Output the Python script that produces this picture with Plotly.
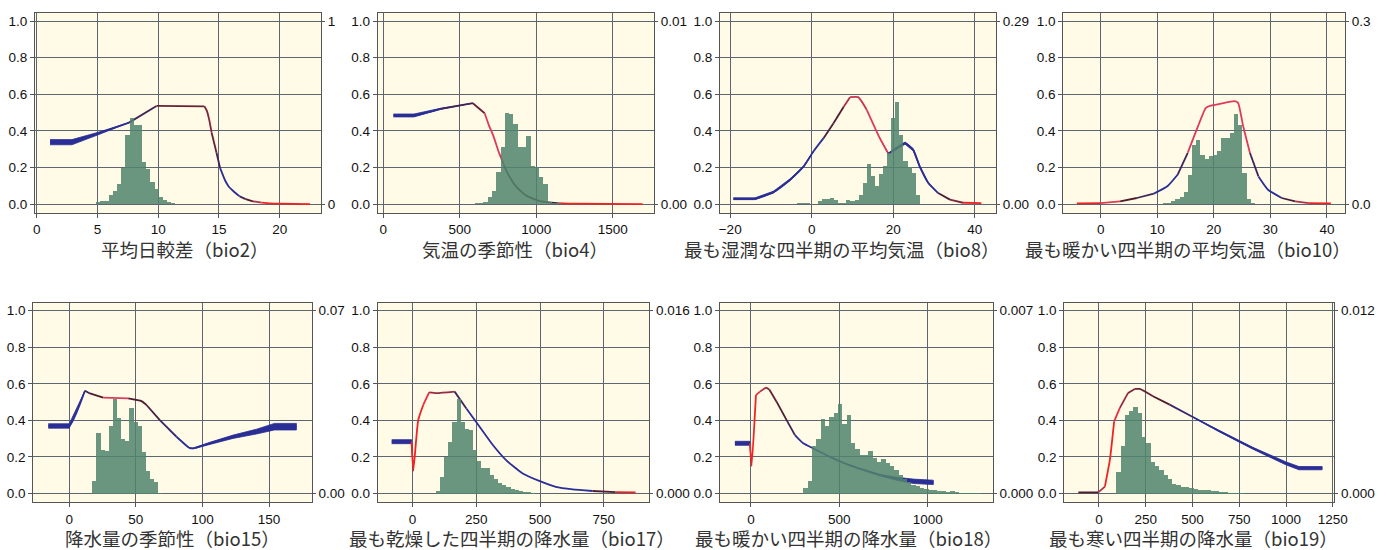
import plotly.graph_objects as go

# ---------------- data ----------------
titles = ["平均日較差（bio2）", "気温の季節性（bio4）", "最も湿潤な四半期の平均気温（bio8）",
          "最も暖かい四半期の平均気温（bio10）", "降水量の季節性（bio15）", "最も乾燥した四半期の降水量（bio17）",
          "最も暖かい四半期の降水量（bio18）", "最も寒い四半期の降水量（bio19）"]
right_top = ["1", "0.01", "0.29", "0.3", "0.07", "0.016", "0.007", "0.012"]
right_bottom = ["0", "0.00", "0.00", "0.0", "0.00", "0.000", "0.000", "0.000"]
x_ticks = [[0, 5, 10, 15, 20], [0, 500, 1000, 1500], [-20, 0, 20, 40], [0, 10, 20, 30, 40],
           [0, 50, 100, 150], [0, 250, 500, 750], [0, 500, 1000], [0, 250, 500, 750, 1000, 1250]]
y_ticks = [0.0, 0.2, 0.4, 0.6, 0.8, 1.0]

# response curves: x, y, tone (0 blue .. 1 red), spread (half band width, y units)
bio2_x = [1.1, 2.9, 5.0, 7.6, 9.86, 13.8, 14.0, 14.2, 14.4, 14.8, 15.1, 15.5, 15.8, 16.2, 16.7, 17.2, 17.8, 18.5, 19.2, 20.0, 22.5]
bio2_y = [0.338, 0.338, 0.384, 0.445, 0.536, 0.534, 0.51, 0.46, 0.39, 0.28, 0.196, 0.13, 0.096, 0.07, 0.042, 0.027, 0.015, 0.008, 0.004, 0.002, 0.0]
bio2_tone = [0, 0, 0, 0.3, 0.55, 0.6, 0.6, 0.6, 0.55, 0.3, 0, 0, 0, 0, 0.3, 0.5, 0.7, 1, 1, 1, 1]
bio2_spread = [0.014, 0.014, 0.007, 0, 0, 0, 0, 0, 0, 0, 0, 0, 0, 0, 0, 0, 0, 0, 0, 0, 0]

bio4_x = [66, 200, 373, 585, 662, 690, 720, 757, 790, 811, 850, 877, 943, 1031, 1140, 1250, 1695]
bio4_y = [0.484, 0.484, 0.52, 0.551, 0.496, 0.43, 0.37, 0.278, 0.21, 0.169, 0.115, 0.087, 0.042, 0.015, 0.005, 0.002, 0.0]
bio4_tone = [0, 0, 0.3, 0.55, 0.8, 0.8, 0.8, 0.8, 0.6, 0.45, 0.45, 0.45, 0.45, 0.45, 1, 1, 1]
bio4_spread = [0.008, 0.008, 0.003, 0, 0, 0, 0, 0, 0, 0, 0, 0, 0, 0, 0, 0, 0]

bio8_x = [-19.2, -13.9, -9.4, -5.3, -2.0, 0.4, 2.9, 5.3, 7.8, 9.4, 11.4, 13.5, 16.7, 18.8, 22.9, 24.9, 26.5, 28.6, 31.0, 33.9, 37.1, 41.6]
bio8_y = [0.029, 0.029, 0.065, 0.133, 0.205, 0.287, 0.36, 0.44, 0.53, 0.584, 0.584, 0.515, 0.36, 0.275, 0.333, 0.296, 0.205, 0.115, 0.06, 0.024, 0.007, 0.005]
bio8_tone = [0, 0, 0, 0, 0, 0, 0.45, 0.5, 0.7, 0.75, 0.75, 0.8, 0.8, 0, 0, 0, 0, 0, 0.45, 0.6, 1, 1]
bio8_spread = [0.005, 0.005, 0.005, 0.005, 0.004, 0, 0, 0, 0, 0, 0, 0, 0, 0.003, 0.006, 0.006, 0.005, 0.003, 0, 0, 0, 0]

bio10_x = [-4.2, 0, 3.45, 6.4, 9.4, 11.8, 13.6, 15.4, 17.1, 18.6, 19.5, 21.3, 23.7, 24.3, 25.2, 26.4, 27.9, 29.6, 32.0, 34.4, 36.8, 40.7]
bio10_y = [0.004, 0.005, 0.015, 0.033, 0.057, 0.097, 0.16, 0.28, 0.416, 0.526, 0.538, 0.549, 0.562, 0.553, 0.425, 0.279, 0.151, 0.078, 0.033, 0.015, 0.005, 0.004]
bio10_tone = [1, 0.8, 0.5, 0.3, 0, 0, 0.3, 0.8, 0.8, 0.8, 0.8, 0.8, 0.8, 0.8, 0.8, 0.3, 0, 0, 0.45, 0.7, 1, 1]
bio10_spread = [0] * 22

bio15_x = [-15.75, 0, 11.75, 15.5, 25.5, 44.25, 54.25, 58, 68, 80.5, 90, 93, 105.5, 123, 140.5, 154, 170.5]
bio15_y = [0.369, 0.369, 0.562, 0.547, 0.524, 0.52, 0.505, 0.484, 0.401, 0.31, 0.25, 0.246, 0.274, 0.31, 0.338, 0.365, 0.365]
bio15_tone = [0, 0, 0.3, 0.5, 0.8, 0.5, 0.5, 0.4, 0.2, 0, 0, 0, 0, 0, 0, 0, 0]
bio15_spread = [0.012, 0.012, 0, 0, 0, 0, 0, 0, 0, 0, 0, 0.002, 0.0055, 0.009, 0.013, 0.018, 0.018]

bio17_x = [-82, -4, 2.6, 22, 41.7, 65, 94, 165, 211, 263, 315, 367, 432, 497, 562, 628, 706, 797, 875]
bio17_y = [0.283, 0.283, 0.124, 0.401, 0.484, 0.553, 0.549, 0.557, 0.465, 0.365, 0.265, 0.182, 0.109, 0.068, 0.036, 0.022, 0.013, 0.007, 0.005]
bio17_tone = [0, 1, 1, 1, 0.9, 0.65, 0.65, 0.3, 0, 0, 0, 0, 0, 0, 0, 0, 0.5, 1, 1]
bio17_spread = [0.011, 0.011, 0, 0, 0, 0, 0, 0, 0, 0, 0, 0, 0, 0, 0, 0, 0, 0, 0]

bio18_x = [-90.6, -5.7, 3.8, 28.3, 51, 85, 104, 145, 202, 249, 296, 353, 447, 542, 636, 730, 825, 919, 1032]
bio18_y = [0.274, 0.274, 0.15, 0.538, 0.557, 0.58, 0.569, 0.502, 0.401, 0.319, 0.274, 0.246, 0.2, 0.16, 0.128, 0.1, 0.08, 0.066, 0.06]
bio18_tone = [0, 1, 1, 0.9, 0.7, 0.6, 0.55, 0.5, 0.3, 0, 0, 0, 0, 0, 0, 0, 0, 0, 0]
bio18_spread = [0.011, 0.011, 0, 0, 0, 0, 0, 0, 0, 0, 0, 0, 0, 0, 0.002, 0.004, 0.008, 0.012, 0.012]

bio19_x = [-110, -3.5, 32, 58.5, 81.5, 112, 156, 191.5, 218, 289, 378, 502, 644, 821, 998, 1069, 1193]
bio19_y = [0.005, 0.005, 0.037, 0.183, 0.394, 0.468, 0.55, 0.572, 0.572, 0.532, 0.486, 0.418, 0.34, 0.248, 0.165, 0.138, 0.138]
bio19_tone = [0.5, 0.7, 1, 1, 0.9, 0.65, 0.6, 0.55, 0.55, 0.5, 0.2, 0, 0, 0, 0, 0, 0]
bio19_spread = [0, 0, 0, 0, 0, 0, 0, 0, 0, 0, 0, 0, 0.003, 0.005, 0.008, 0.009, 0.009]

# histograms: first bin edge, bin width, bar heights (left-axis scale)
bio2_hist_start, bio2_hist_width = 4.9, 0.343
bio2_hist = [0.01, 0.018, 0.018, 0.05, 0.07, 0.11, 0.195, 0.377, 0.47, 0.43, 0.43, 0.23, 0.19, 0.12, 0.08, 0.04, 0.02, 0.01, 0.004]
bio4_hist_start, bio4_hist_width = 540, 28
bio4_hist = [0.002, 0.002, 0.004, 0.006, 0.01, 0.04, 0.07, 0.175, 0.31, 0.5, 0.49, 0.435, 0.31, 0.31, 0.37, 0.21, 0.2, 0.15, 0.11, 0.01, 0.005, 0.003]
bio8_hist_start, bio8_hist_width = -3.5, 1.0
bio8_hist = [0.006, 0.008, 0.006, 0.002, 0.0, 0.015, 0.025, 0.03, 0.035, 0.02, 0.005, 0.005, 0.02, 0.015, 0.02, 0.05, 0.115,
             0.22, 0.155, 0.1, 0.165, 0.21, 0.28, 0.47, 0.555, 0.375, 0.235, 0.2, 0.17, 0.05]
bio10_hist_start, bio10_hist_width = 10.3, 0.74
bio10_hist = [0.002, 0.004, 0.008, 0.015, 0.025, 0.04, 0.065, 0.16, 0.32, 0.35, 0.27, 0.245, 0.26, 0.27, 0.29, 0.36, 0.36, 0.39, 0.49, 0.43, 0.17, 0.03, 0.005]
bio15_hist_start, bio15_hist_width = 17.5, 3.1
bio15_hist = [0.07, 0.33, 0.24, 0.235, 0.37, 0.52, 0.415, 0.3, 0.29, 0.47, 0.39, 0.37, 0.23, 0.125, 0.08, 0.065, 0.005]
bio17_hist_start, bio17_hist_width = 89.8, 16.3
bio17_hist = [0.015, 0.09, 0.2, 0.285, 0.39, 0.52, 0.39, 0.355, 0.35, 0.24, 0.18, 0.14, 0.14, 0.1, 0.08, 0.06, 0.05, 0.035, 0.025, 0.02, 0.015, 0.01, 0.01, 0.005]
bio18_hist_start, bio18_hist_width = 296, 24.5
bio18_hist = [0.03, 0.07, 0.26, 0.3, 0.41, 0.37, 0.42, 0.44, 0.49, 0.38, 0.43, 0.28, 0.246, 0.21, 0.21, 0.234, 0.197, 0.173, 0.19, 0.168,
              0.15, 0.131, 0.1, 0.082, 0.064, 0.05, 0.04, 0.033, 0.027, 0.02, 0.018, 0.015, 0.012, 0.01, 0.012, 0.008, 0.006, 0.005, 0.004, 0.003, 0.002]
bio19_hist_start, bio19_hist_width = 94, 23
bio19_hist = [0.12, 0.26, 0.43, 0.455, 0.475, 0.44, 0.31, 0.28, 0.175, 0.15, 0.13, 0.1, 0.08, 0.055, 0.045, 0.035, 0.035, 0.03, 0.025, 0.02,
              0.018, 0.018, 0.015, 0.012, 0.008, 0.01, 0.005, 0.004, 0.003, 0.003]

panels = [
    (bio2_x, bio2_y, bio2_tone, bio2_spread, bio2_hist_start, bio2_hist_width, bio2_hist),
    (bio4_x, bio4_y, bio4_tone, bio4_spread, bio4_hist_start, bio4_hist_width, bio4_hist),
    (bio8_x, bio8_y, bio8_tone, bio8_spread, bio8_hist_start, bio8_hist_width, bio8_hist),
    (bio10_x, bio10_y, bio10_tone, bio10_spread, bio10_hist_start, bio10_hist_width, bio10_hist),
    (bio15_x, bio15_y, bio15_tone, bio15_spread, bio15_hist_start, bio15_hist_width, bio15_hist),
    (bio17_x, bio17_y, bio17_tone, bio17_spread, bio17_hist_start, bio17_hist_width, bio17_hist),
    (bio18_x, bio18_y, bio18_tone, bio18_spread, bio18_hist_start, bio18_hist_width, bio18_hist),
    (bio19_x, bio19_y, bio19_tone, bio19_spread, bio19_hist_start, bio19_hist_width, bio19_hist),
]

# ---------------- layout geometry (pixels) ----------------
W, H = 1386, 550
x_dom_px = [(35, 321), (377.7, 654), (720, 996), (1063.3, 1345),
            (33.3, 311.7), (377.7, 649.3), (720, 992.7), (1064.3, 1334.3)]
x_ranges = [(-0.14, 23.4), (-37, 1769), (-22.5, 45.2), (-6.6, 43.2),
            (-27, 182), (-137, 929), (-175, 1368), (-185, 1258)]
row_px = [(13, 213), (302.7, 502.3)]
title_cx = [185, 515, 842, 1188, 172, 512, 848, 1193]
title_cy = [248.5, 248.5, 248.5, 248.5, 538, 538, 538, 538]
Y_RANGE = [-0.049, 1.044]

GRID = "#5c6570"
FRAME = "#555555"
TICKFONT = dict(family="Liberation Sans, Arial, sans-serif", size=13.5, color="#111111")
BAR_COLOR = "rgba(81,131,110,0.86)"
BAND_COLOR = "rgb(42,46,150)"

STOPS = [(0.0, (42, 46, 150)), (0.5, (78, 28, 46)), (0.8, (222, 58, 92)), (1.0, (240, 35, 35))]


def tone_color(t):
    for (a, ca), (b, cb) in zip(STOPS[:-1], STOPS[1:]):
        if t <= b:
            f = (t - a) / (b - a) if b > a else 0
            c = [round(ca[i] + (cb[i] - ca[i]) * f) for i in range(3)]
            return f"rgb({c[0]},{c[1]},{c[2]})"
    c = STOPS[-1][1]
    return f"rgb({c[0]},{c[1]},{c[2]})"


fig = go.Figure()
layout = dict(width=W, height=H, margin=dict(l=0, r=0, t=0, b=0, autoexpand=False),
              paper_bgcolor="white", plot_bgcolor="#FFFBE6", showlegend=False,
              bargap=0, barmode="overlay", annotations=[])

for k, (xs, ys, tone, spread, hs, hw, hh) in enumerate(panels, start=1):
    xr = "x" if k == 1 else f"x{k}"
    yr = "y" if k == 1 else f"y{k}"
    y2r = f"y{k + 8}"
    row = 0 if k <= 4 else 1
    x0, x1 = x_dom_px[k - 1]
    top, bot = row_px[row]

    # uncertainty band
    n = len(xs)
    idx = [i for i in range(n) if spread[i] > 0 or (i > 0 and spread[i - 1] > 0) or (i < n - 1 and spread[i + 1] > 0)]
    runs, cur = [], []
    for i in idx:
        if cur and i != cur[-1] + 1:
            runs.append(cur)
            cur = []
        cur.append(i)
    if cur:
        runs.append(cur)
    for r in runs:
        bx = [xs[i] for i in r] + [xs[i] for i in reversed(r)]
        by = [ys[i] + spread[i] for i in r] + [ys[i] - spread[i] for i in reversed(r)]
        fig.add_trace(go.Scatter(x=bx, y=by, mode="lines", fill="toself", fillcolor=BAND_COLOR,
                                 line=dict(width=0.8, color=BAND_COLOR), hoverinfo="skip",
                                 xaxis=xr, yaxis=yr))

    # curve, drawn in runs of equal tone
    start = 0
    for j in range(1, n):
        if j == n - 1 or tone[j] != tone[start]:
            seg = list(range(start, j + 1))
            fig.add_trace(go.Scatter(x=[xs[i] for i in seg], y=[ys[i] for i in seg], mode="lines",
                                     line=dict(color=tone_color(tone[start]), width=1.8,
                                               shape="spline", smoothing=0.5),
                                     hoverinfo="skip", xaxis=xr, yaxis=yr))
            start = j

    # histogram (on overlay axis, drawn on top)
    centers = [hs + hw * (i + 0.5) for i in range(len(hh))]
    fig.add_trace(go.Bar(x=centers, y=hh, width=[hw] * len(hh), marker=dict(color=BAR_COLOR, line=dict(width=0)),
                         hoverinfo="skip", xaxis=xr, yaxis=y2r))

    xname = "xaxis" if k == 1 else f"xaxis{k}"
    yname = "yaxis" if k == 1 else f"yaxis{k}"
    layout[xname] = dict(domain=[x0 / W, x1 / W], range=list(x_ranges[k - 1]), anchor=yr,
                         tickmode="array", tickvals=x_ticks[k - 1], showgrid=True, gridcolor=GRID, gridwidth=1,
                         zeroline=False, showline=True, linecolor=FRAME, linewidth=1, mirror=True,
                         ticks="outside", ticklen=4, tickcolor=FRAME, tickfont=TICKFONT, fixedrange=True,
                         automargin=False)
    layout[yname] = dict(domain=[1 - bot / H, 1 - top / H], range=Y_RANGE, anchor=xr,
                         tickmode="array", tickvals=y_ticks, ticktext=[f"{v:.1f}" for v in y_ticks],
                         showgrid=True, gridcolor=GRID, gridwidth=1, zeroline=False,
                         showline=True, linecolor=FRAME, linewidth=1, mirror=True,
                         ticks="outside", ticklen=4, tickcolor=FRAME, tickfont=TICKFONT, fixedrange=True,
                         automargin=False)
    layout[f"yaxis{k + 8}"] = dict(overlaying=yr, side="right", anchor=xr, range=Y_RANGE,
                                   tickmode="array", tickvals=[0, 1],
                                   ticktext=[right_bottom[k - 1], right_top[k - 1]],
                                   showgrid=False, zeroline=False, showline=False,
                                   ticks="outside", ticklen=3, tickcolor=FRAME, tickfont=TICKFONT, fixedrange=True,
                                   automargin=False)
    layout["annotations"].append(dict(text=titles[k - 1], x=title_cx[k - 1] / W, y=1 - title_cy[k - 1] / H,
                                      xref="paper", yref="paper", xanchor="center", yanchor="middle",
                                      showarrow=False,
                                      font=dict(family="Noto Sans CJK JP", size=18.5, color="#333333")))

fig.update_layout(**layout)
fig.write_html("out.html", config={"displayModeBar": False},
               post_script="document.body.style.margin='0px';document.body.style.overflow='hidden';")
